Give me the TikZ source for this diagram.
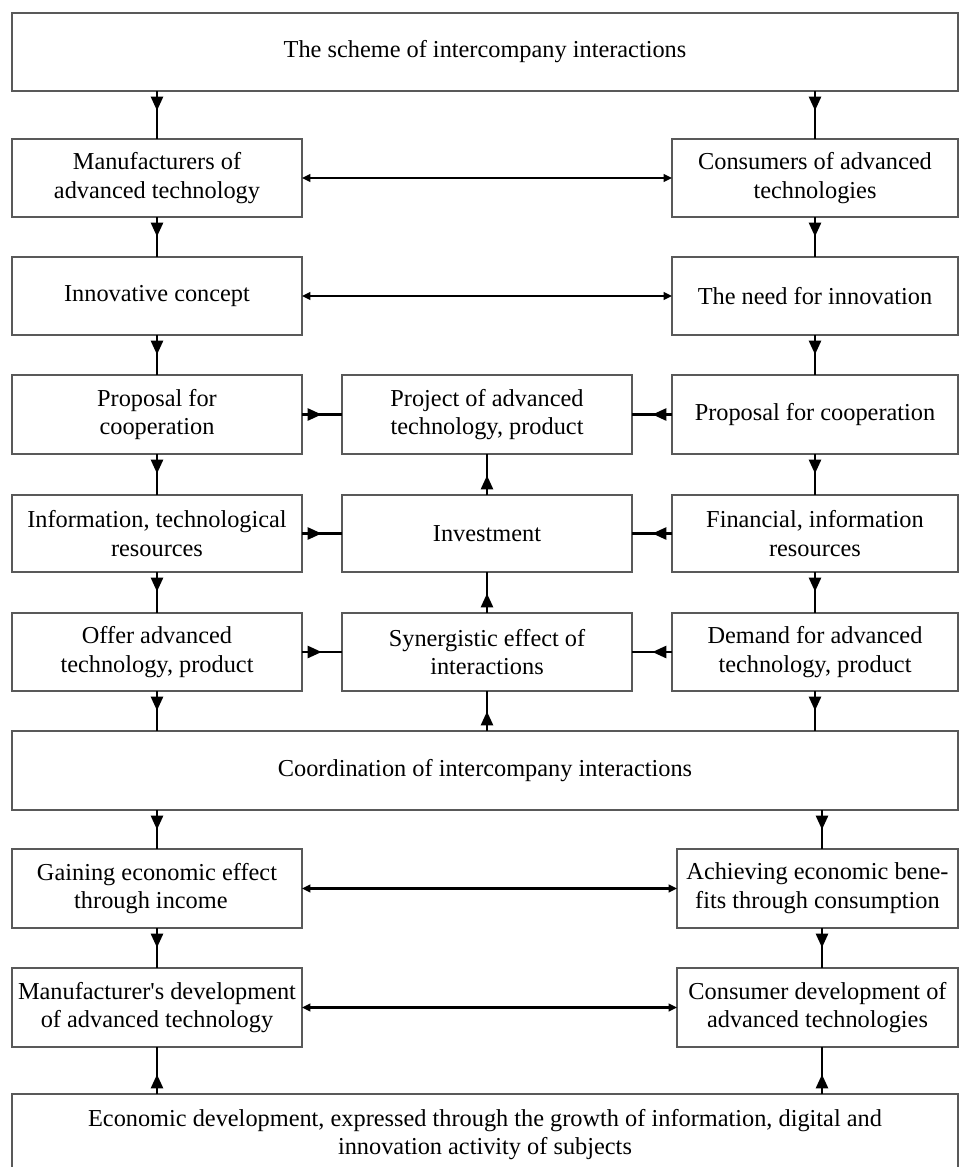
\documentclass[tikz,border=0pt]{standalone}
\usepackage{fontspec}
\setmainfont{Liberation Serif}
\usetikzlibrary{arrows.meta,decorations.markings}
\newcommand{\bx}[6]{\node[box, minimum width={(#4-#2)*0.025cm}, minimum height={(#5-#3)*0.025cm}] (#1) at ({(#2+#4)/2},{(#3+#5)/2}) {#6};}
\begin{document}
\begin{tikzpicture}[x=0.025cm,y=-0.025cm,
  box/.style={draw=black!65, line width=0.9pt, rectangle, inner sep=0pt, outer sep=0pt, align=center, font=\fontsize{17.3}{20.5}\selectfont, fill=white},
  conn/.style={line width=1.9pt, postaction={decorate}, decoration={markings, mark=at position 14pt with {\arrow{Triangle[length=10pt,width=8.5pt]}}}},
  both/.style={line width=1.9pt, {Triangle[length=6pt,width=5.5pt]}-{Triangle[length=6pt,width=5.5pt]}}]
\useasboundingbox (0,0) rectangle (961,1167);
\fill[white] (0,0) rectangle (961,1167);
% boxes
\bx{top}{12}{13}{958}{91}{The scheme of intercompany interactions}
\bx{man}{12}{139}{302}{217}{Manufacturers of\\advanced technology}
\bx{cons}{672}{139}{958}{217}{Consumers of advanced\\technologies}
\bx{inn}{12}{257}{302}{335}{Innovative concept}
\bx{need}{672}{257}{958}{335}{The need for innovation}
\bx{propL}{12}{375}{302}{454}{Proposal for\\cooperation}
\bx{proj}{342}{375}{632}{454}{Project of advanced\\technology, product}
\bx{propR}{672}{375}{958}{454}{Proposal for cooperation}
\bx{info}{12}{495}{302}{572}{Information, technological\\resources}
\bx{inv}{342}{495}{632}{572}{Investment}
\bx{fin}{672}{495}{958}{572}{Financial, information\\resources}
\bx{offer}{12}{613}{302}{691}{Offer advanced\\technology, product}
\bx{syn}{342}{613}{632}{691}{Synergistic effect of\\interactions}
\bx{dem}{672}{613}{958}{691}{Demand for advanced\\technology, product}
\bx{coord}{12}{731}{958}{810}{Coordination of intercompany interactions}
\bx{gain}{12}{849}{302}{928}{Gaining economic effect\\through income\hspace*{0.5em}}
\bx{ach}{677}{849}{958}{928}{Achieving economic bene-\\fits through consumption}
\bx{mdev}{12}{968}{302}{1047}{Manufacturer\textquotesingle s development\\of advanced technology}
\bx{cdev}{677}{968}{958}{1047}{Consumer development of\\advanced technologies}
\bx{eco}{12}{1094}{958}{1175}{Economic development, expressed through the growth of information, digital and\\innovation activity of subjects}
\coordinate (rx) at (822,0);
% vertical connectors
\draw[conn] (top.south -| man.north) -- (man.north);
\draw[conn] (top.south -| cons.north) -- (cons.north);
\draw[conn] (man.south) -- (inn.north);
\draw[conn] (cons.south) -- (need.north);
\draw[conn] (inn.south) -- (propL.north);
\draw[conn] (need.south) -- (propR.north);
\draw[conn] (propL.south) -- (info.north);
\draw[conn] (propR.south) -- (fin.north);
\draw[conn] (info.south) -- (offer.north);
\draw[conn] (fin.south) -- (dem.north);
\draw[conn] (offer.south) -- (offer.south |- coord.north);
\draw[conn] (dem.south) -- (dem.south |- coord.north);
\draw[conn] (inv.north) -- (proj.south);
\draw[conn] (syn.north) -- (inv.south);
\draw[conn] (coord.north -| syn.south) -- (syn.south);
\draw[conn] (coord.south -| gain.north) -- (gain.north);
\draw[conn] (coord.south -| rx) -- (ach.north -| rx);
\draw[conn] (gain.south) -- (mdev.north);
\draw[conn] (ach.south -| rx) -- (cdev.north -| rx);
\draw[conn] (eco.north -| mdev.south) -- (mdev.south);
\draw[conn] (eco.north -| rx) -- (cdev.south -| rx);
% horizontal connectors
\draw[conn] (propL.east) -- (proj.west);
\draw[conn] (info.east) -- (inv.west);
\draw[conn] (offer.east) -- (syn.west);
\draw[conn] (propR.west) -- (proj.east);
\draw[conn] (fin.west) -- (inv.east);
\draw[conn] (dem.west) -- (syn.east);
\draw[both] (man.east) -- (cons.west);
\draw[both] (inn.east) -- (need.west);
\draw[both] (gain.east) -- (ach.west);
\draw[both] (mdev.east) -- (cdev.west);
\end{tikzpicture}
\end{document}
